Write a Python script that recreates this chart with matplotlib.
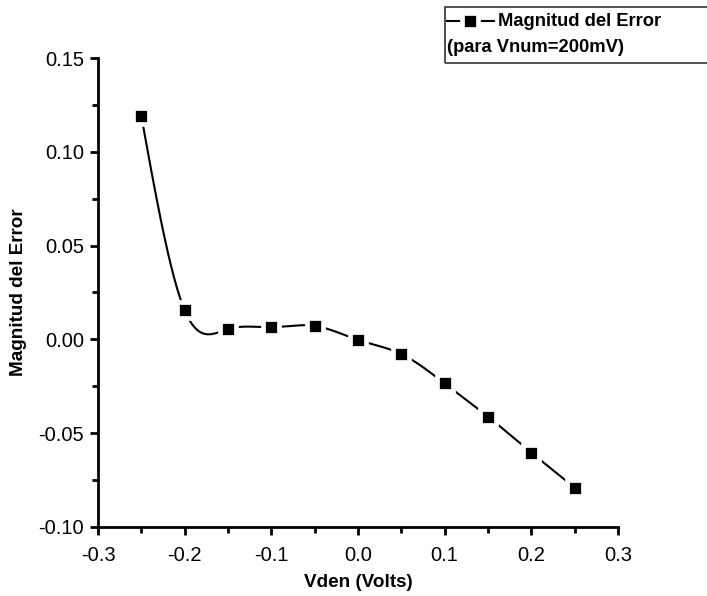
import numpy as np
import matplotlib
matplotlib.use("Agg")
import matplotlib.pyplot as plt
from matplotlib.lines import Line2D
from matplotlib.patches import Rectangle
from matplotlib.ticker import MultipleLocator

plt.rcParams['font.family'] = ['Liberation Sans', 'DejaVu Sans']

# Measured error magnitude versus denominator voltage
vden = [-0.25, -0.20, -0.15, -0.10, -0.05, 0.00, 0.05, 0.10, 0.15, 0.20, 0.25]
error = [0.119, 0.0155, 0.0055, 0.0065, 0.0072, -0.0003, -0.0078, -0.0235, -0.0412, -0.0603, -0.0790]

x_ticks = [-0.3, -0.2, -0.1, 0.0, 0.1, 0.2, 0.3]
y_ticks = [-0.10, -0.05, 0.00, 0.05, 0.10, 0.15]
legend_lines = ["Magnitud del Error", "(para Vnum=200mV)"]


def natural_cubic_spline(x, y, xs):
    x = np.asarray(x, float)
    y = np.asarray(y, float)
    n = len(x)
    h = np.diff(x)
    A = np.zeros((n, n))
    b = np.zeros(n)
    A[0, 0] = A[-1, -1] = 1.0
    for i in range(1, n - 1):
        A[i, i - 1] = h[i - 1]
        A[i, i] = 2 * (h[i - 1] + h[i])
        A[i, i + 1] = h[i]
        b[i] = 3 * ((y[i + 1] - y[i]) / h[i] - (y[i] - y[i - 1]) / h[i - 1])
    c = np.linalg.solve(A, b)
    idx = np.clip(np.searchsorted(x, xs) - 1, 0, n - 2)
    dx = xs - x[idx]
    hi = h[idx]
    bcoef = (y[idx + 1] - y[idx]) / hi - hi * (2 * c[idx] + c[idx + 1]) / 3
    dcoef = (c[idx + 1] - c[idx]) / (3 * hi)
    return y[idx] + bcoef * dx + c[idx] * dx ** 2 + dcoef * dx ** 3


W, H = 707, 596
fig = plt.figure(figsize=(W / 100, H / 100), dpi=100)
ax = fig.add_axes([98 / W, 1 - 527 / H, (618 - 98) / W, (527 - 58) / H])

marker_style = dict(marker='s', ms=11, mfc='black', mec='white', mew=3.4)

xs = np.linspace(vden[0], vden[-1], 600)
ax.plot(xs, natural_cubic_spline(vden, error, xs), color='black', lw=1.5, zorder=2)
ax.plot(vden, error, ls='none', zorder=3, **marker_style)

ax.set_xlim(-0.3, 0.3)
ax.set_ylim(-0.10, 0.15)
ax.set_xticks(x_ticks)
ax.set_xticklabels([f"{v:.1f}" for v in x_ticks])
ax.set_yticks(y_ticks)
ax.set_yticklabels([f"{v:.2f}" for v in y_ticks])
ax.xaxis.set_minor_locator(MultipleLocator(0.05))
ax.yaxis.set_minor_locator(MultipleLocator(0.025))

for side in ('top', 'right'):
    ax.spines[side].set_visible(False)
for side in ('left', 'bottom'):
    ax.spines[side].set_linewidth(2)

ax.tick_params(which='major', direction='out', length=6, width=2, labelsize=14.5)
ax.tick_params(which='minor', direction='out', length=4, width=2)
ax.tick_params(axis='x', which='major', pad=8)
ax.tick_params(axis='y', which='major', pad=4)

ax.set_xlabel("Vden (Volts)", fontsize=13.6, fontweight='bold', labelpad=6)
ax.set_ylabel("Magnitud del Error", fontsize=13.6, fontweight='bold', labelpad=8)


def fx(px):
    return px / W


def fy(py):
    return 1 - py / H


# Legend box in the top-right corner
fig.add_artist(Rectangle((fx(445), fy(63)), fx(280), (63 - 7) / H, transform=fig.transFigure,
                         fill=False, edgecolor='#333333', lw=1.2))
fig.add_artist(Line2D([fx(447), fx(470), fx(494)], [fy(21)] * 3, transform=fig.transFigure,
                      color='black', lw=1.5, markevery=[1], **marker_style))
fig.text(fx(498), fy(21), legend_lines[0], fontsize=13.2, fontweight='bold', va='center', ha='left')
fig.text(fx(447), fy(48), legend_lines[1], fontsize=13.2, fontweight='bold', va='center', ha='left')

fig.savefig("out.png", dpi=100)
